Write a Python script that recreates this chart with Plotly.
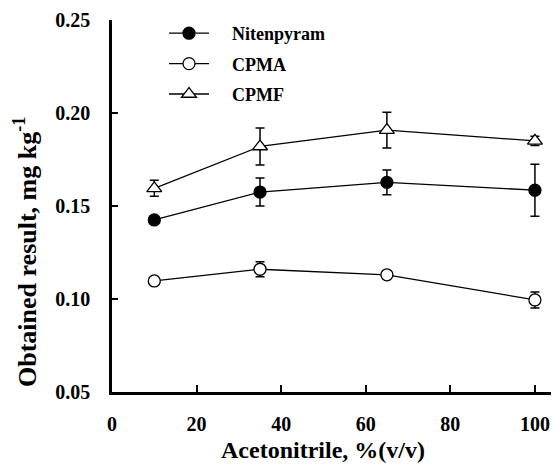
import plotly.graph_objects as go

# Data
acetonitrile = [10, 35, 65, 100]
nitenpyram = [0.1425, 0.1575, 0.1627, 0.1585]
nitenpyram_err = [0.002, 0.0075, 0.0067, 0.014]
cpma = [0.1097, 0.1160, 0.1130, 0.0995]
cpma_err = [0.0, 0.004, 0.0015, 0.0043]
cpmf = [0.1595, 0.1820, 0.1908, 0.1850]
cpmf_err = [0.0043, 0.0099, 0.0096, 0.0025]

series_names = ["Nitenpyram", "CPMA", "CPMF"]
x_ticks = [0, 20, 40, 60, 80, 100]
y_ticks = [0.05, 0.10, 0.15, 0.20, 0.25]
y_tick_text = ["0.05", "0.10", "0.15", "0.20", "0.25"]

FONT = "Liberation Serif"
W, H = 553, 465
ML, MR, MT, MB = 112, 2, 20, 73

fig = go.Figure()

specs = [
    (nitenpyram, nitenpyram_err, "circle", "black", 12),
    (cpma, cpma_err, "circle", "white", 12),
    (cpmf, cpmf_err, "triangle-up", "white", 13),
]
nbsp = "\u00a0" * 4
for i, (name, (vals, errs, sym, fill, sz)) in enumerate(zip(series_names, specs)):
    fig.add_trace(go.Scatter(
        x=acetonitrile, y=vals,
        mode="lines+markers",
        name=nbsp + name,
        legendgroup=f"g{i}",
        line=dict(color="black", width=1.3),
        marker=dict(symbol=sym, size=sz, color=fill,
                    line=dict(color="black", width=1.3)),
        error_y=dict(type="data", array=errs, visible=True,
                     color="black", thickness=1.5, width=4.5),
    ))

pw = W - ML - MR
ph = H - MT - MB

fig.update_layout(
    width=W, height=H,
    margin=dict(l=ML, r=MR, t=MT, b=MB),
    paper_bgcolor="white", plot_bgcolor="white",
    font=dict(family=FONT, color="black", size=18),
    showlegend=True,
    legend=dict(
        x=(164 - ML) / pw, y=(H - MB - 15) / ph,
        xanchor="left", yanchor="top",
        bgcolor="rgba(0,0,0,0)",
        font=dict(family=FONT, size=18, color="black", weight="bold"),
        tracegroupgap=4,
        itemwidth=40,
    ),
    xaxis=dict(
        range=[0, 103.8],
        tickvals=x_ticks,
        ticktext=[str(v) for v in x_ticks],
        ticks="inside", ticklen=7, tickwidth=2, tickcolor="black",
        showline=True, linewidth=2.5, linecolor="black",
        showgrid=False, zeroline=False,
        tickfont=dict(family=FONT, size=20, color="black", weight="bold"),
        ticklabelstandoff=12,
    ),
    yaxis=dict(
        range=[0.05, 0.25],
        tickvals=y_ticks,
        ticktext=y_tick_text,
        ticks="inside", ticklen=6, tickwidth=2, tickcolor="black",
        showline=True, linewidth=2.5, linecolor="black",
        showgrid=False, zeroline=False,
        tickfont=dict(family=FONT, size=20, color="black", weight="bold"),
        ticklabelstandoff=15,
    ),
    annotations=[
        dict(text="Acetonitrile, %(v/v)", xref="paper", yref="paper",
             x=(322.5 - ML) / pw, y=(H - MB - 450) / ph,
             xanchor="center", yanchor="middle", showarrow=False,
             font=dict(family=FONT, size=24, color="black", weight="bold")),
        dict(text="Obtained result, mg kg<sup>-1</sup>", xref="paper", yref="paper",
             x=(25 - ML) / pw, y=(H - MB - 252) / ph,
             xanchor="center", yanchor="middle", showarrow=False, textangle=-90,
             font=dict(family=FONT, size=26, color="black", weight="bold")),
    ],
)

fig.write_html("out.html")
